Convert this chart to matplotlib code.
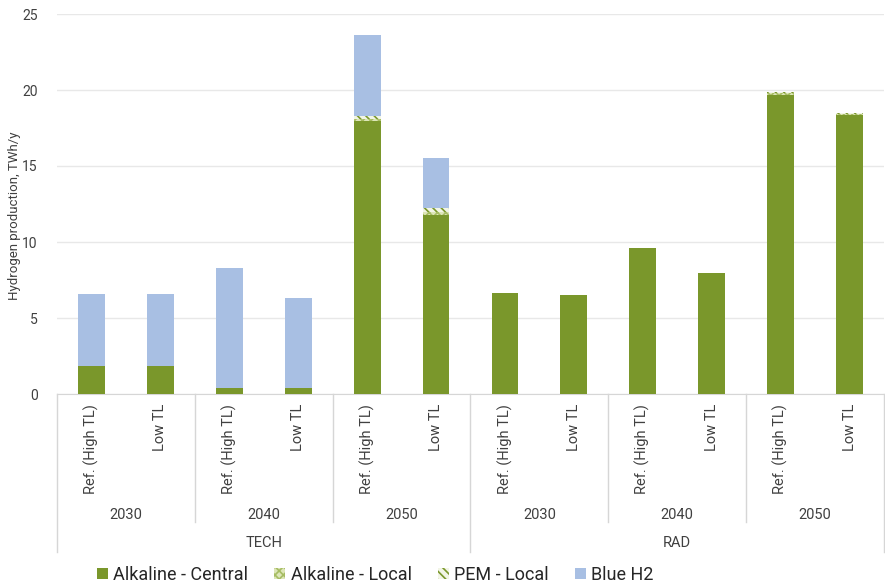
import matplotlib
matplotlib.use("Agg")
import matplotlib.pyplot as plt
import matplotlib.transforms as mtransforms
from matplotlib.lines import Line2D
import numpy as np

plt.rcParams['font.family'] = ['Roboto', 'DejaVu Sans']
plt.rcParams['hatch.linewidth'] = 1.2

scenarios = ["TECH", "RAD"]
years = ["2030", "2040", "2050"]
cases = ["Ref. (High TL)", "Low TL"]

# order: TECH 2030 Ref, Low, 2040 Ref, Low, 2050 Ref, Low, RAD ...
alk_central = [1.82, 1.82, 0.42, 0.42, 17.95, 11.8, 6.62, 6.5, 9.62, 7.97, 19.7, 18.35]
alk_local   = [0.0, 0.0, 0.0, 0.0, 0.15, 0.2, 0.0, 0.0, 0.0, 0.0, 0.1, 0.08]
pem_local   = [0.0, 0.0, 0.0, 0.0, 0.2, 0.25, 0.0, 0.0, 0.0, 0.0, 0.1, 0.07]
blue_h2     = [4.75, 4.75, 7.9, 5.92, 5.3, 3.3, 0.0, 0.0, 0.0, 0.0, 0.0, 0.0]

series_names = ["Alkaline - Central", "Alkaline - Local", "PEM - Local", "Blue H2"]
y_ticks = [0, 5, 10, 15, 20, 25]

GREEN = "#7A972B"
BLUE = "#A8BFE3"
TXT = "#404040"
GRID = "#E8E8E8"
SEP = "#D6D6D6"

W, H = 885, 587
fig = plt.figure(figsize=(W/100, H/100), dpi=100)
ax_l, ax_r, ax_t, ax_b = 57, 884, 14, 394
ax = fig.add_axes([ax_l/W, 1 - ax_b/H, (ax_r-ax_l)/W, (ax_b-ax_t)/H])

n = len(alk_central)
x = np.arange(n)
bw = 0.39
a1 = np.array(alk_central)
a2 = np.array(alk_local)
a3 = np.array(pem_local)
a4 = np.array(blue_h2)

h1 = ax.bar(x, a1, bw, color=GREEN, linewidth=0, zorder=3, label=series_names[0])
h2 = ax.bar(x, a2, bw, bottom=a1, facecolor="#DDE6B8", edgecolor="#A6BC62",
            hatch="xxxx", linewidth=0, zorder=3, label=series_names[1])
h3 = ax.bar(x, a3, bw, bottom=a1 + a2, facecolor="#F2F5E6", edgecolor=GREEN,
            hatch="\\\\\\\\", linewidth=0, zorder=3, label=series_names[2])
h4 = ax.bar(x, a4, bw, bottom=a1 + a2 + a3, color=BLUE, linewidth=0, zorder=3,
            label=series_names[3])

ax.set_xlim(-0.5, n - 0.5)
ax.set_ylim(0, 25)
ax.set_yticks(y_ticks)
ax.set_yticklabels([str(t) for t in y_ticks], fontsize=10, color=TXT)
ax.yaxis.grid(True, color=GRID, linewidth=1)
ax.set_axisbelow(True)
for s in ["top", "right", "left"]:
    ax.spines[s].set_visible(False)
ax.spines["bottom"].set_color(SEP)
ax.tick_params(axis="y", length=0, pad=14)
ax.set_ylabel("Hydrogen production, TWh/y", fontsize=9.5, color=TXT)
ax.yaxis.set_label_coords((21 - ax_l) / (ax_r - ax_l), 0.47)

labels = [c for s in scenarios for y in years for c in cases]
ax.set_xticks(x)
ax.set_xticklabels(labels, rotation=90, fontsize=10.5, color=TXT, va="top", ha="center")
ax.tick_params(axis="x", length=0, pad=7)

trans = mtransforms.blended_transform_factory(ax.transData, ax.transAxes)
def ypx(p):
    return (ax_b - p) / (ax_b - ax_t)

# year labels and separators
nc = len(cases)
for si, s in enumerate(scenarios):
    for yi, yr in enumerate(years):
        start = (si * len(years) + yi) * nc
        cx = start + (nc - 1) / 2
        ax.text(cx, ypx(515), yr, transform=trans, ha="center", va="center",
                fontsize=10.5, color=TXT)
    gcx = si * len(years) * nc + (len(years) * nc - 1) / 2
    ax.text(gcx, ypx(543), s, transform=trans, ha="center", va="center",
            fontsize=10.5, color=TXT)

for b in range(0, n + 1, nc):
    if b % (len(years) * nc) == 0:
        yend = ypx(552)
    else:
        yend = ypx(522)
    ax.add_line(Line2D([b - 0.5, b - 0.5], [0, yend], transform=trans,
                       color=SEP, linewidth=1, clip_on=False))

leg = fig.legend(handles=[h1, h2, h3, h4], labels=series_names, loc="center",
                 bbox_to_anchor=(0.424, 1 - 575/H), ncol=4, frameon=False,
                 fontsize=13, handlelength=0.6, handleheight=0.6,
                 handletextpad=0.3, columnspacing=1.45, labelcolor="#262626")

fig.savefig("out.png", dpi=100, facecolor="white")
